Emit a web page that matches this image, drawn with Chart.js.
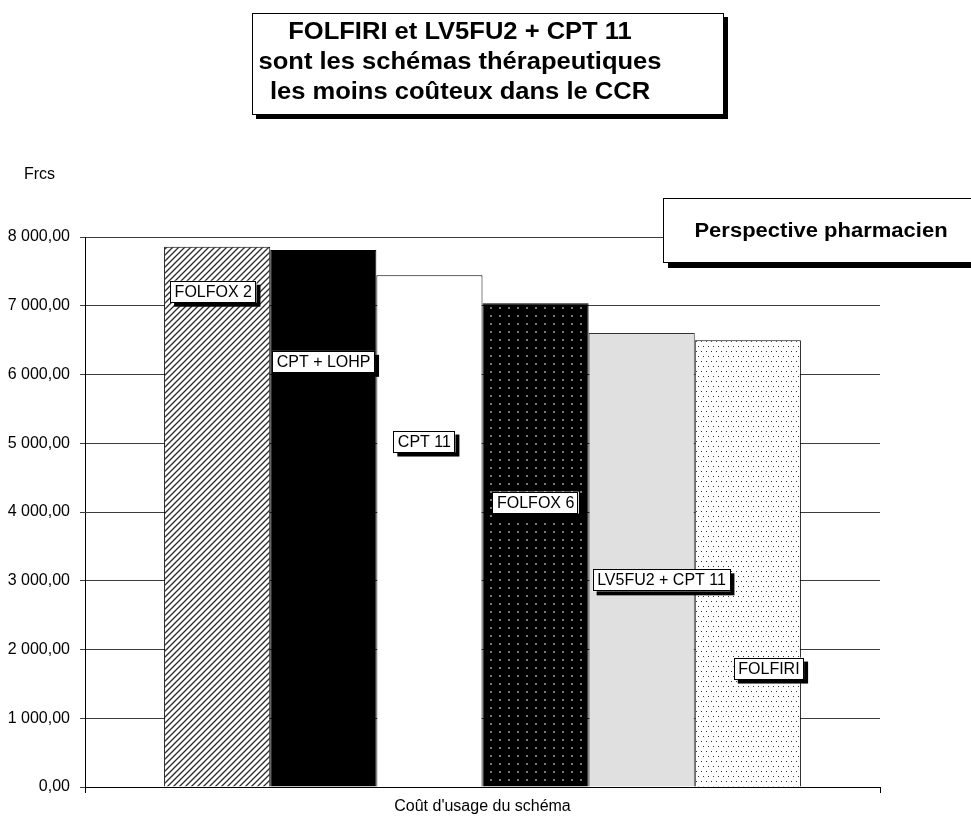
<!DOCTYPE html>
<html>
<head>
<meta charset="utf-8">
<script src="https://cdn.jsdelivr.net/npm/chart.js@4.4.1/dist/chart.umd.min.js"></script>
<style>
  html, body { margin: 0; padding: 0; background: #fff; }
  #c { display: block; }
</style>
</head>
<body>
<canvas id="c" width="971" height="818"></canvas>
<script>
// Cost of each chemotherapy regimen (French francs)
const categories = ["Coût d'usage du schéma"];
const schemes = ['FOLFOX 2', 'CPT + LOHP', 'CPT 11', 'FOLFOX 6', 'LV5FU2 + CPT 11', 'FOLFIRI'];
const costs = [7860, 7810, 7445, 7035, 6605, 6500];
const yMin = 0, yMax = 8000, yStep = 1000;

const FONT = '"Liberation Sans", Arial, Helvetica, sans-serif';
const canvas = document.getElementById('c');
const ctx = canvas.getContext('2d');

// ---- fill patterns ----
function tile(w, h, draw) {
  const c = document.createElement('canvas');
  c.width = w; c.height = h;
  draw(c.getContext('2d'));
  return ctx.createPattern(c, 'repeat');
}
const hatchFill = tile(6, 6, g => {
  g.fillStyle = '#fff'; g.fillRect(0, 0, 6, 6);
  g.strokeStyle = '#2a2a2a'; g.lineWidth = 1.3;
  g.beginPath();
  g.moveTo(-1, 7); g.lineTo(7, -1);
  g.moveTo(-1, 1); g.lineTo(1, -1);
  g.moveTo(5, 7); g.lineTo(7, 5);
  g.stroke();
});
const darkDots = tile(9, 8, g => {
  g.fillStyle = '#000'; g.fillRect(0, 0, 9, 8);
  g.fillStyle = '#7a7a7a'; g.fillRect(4, 3, 2, 2);
});
const lightDots = tile(10, 10, g => {
  g.fillStyle = '#fff'; g.fillRect(0, 0, 10, 10);
  g.fillStyle = '#333';
  g.fillRect(1, 1, 1, 1); g.fillRect(6, 1, 1, 1);
  g.fillRect(3, 6, 1, 1); g.fillRect(8, 6, 1, 1);
});

const fills = [hatchFill, '#000000', '#ffffff', darkDots, '#e0e0e0', lightDots];
const edges = ['#000', '#000', '#000', '#000', '#333', '#000'];

function frNumber(v) {
  const [i, d] = Math.abs(v).toFixed(2).split('.');
  return i.replace(/\B(?=(\d{3})+(?!\d))/g, ' ') + ',' + d;
}

function boxWithShadow(g, x, y, w, h, off) {
  g.fillStyle = '#000';
  g.fillRect(x + off, y + off, w, h);
  g.fillStyle = '#fff';
  g.fillRect(x, y, w, h);
  g.strokeStyle = '#000';
  g.lineWidth = 1;
  g.strokeRect(Math.round(x) + 0.5, Math.round(y) + 0.5, Math.round(w) - 1, Math.round(h) - 1);
}

// Name tags drawn on each bar, stepping down from left to right
const nameTags = {
  id: 'nameTags',
  afterDatasetsDraw(chart, args, opts) {
    const g = chart.ctx;
    const ys = chart.scales.y;
    g.save();
    g.font = '16px ' + FONT;
    chart.data.datasets.forEach((ds, i) => {
      const bar = chart.getDatasetMeta(i).data[0];
      const spot = opts.spots[i];
      const left = bar.x - bar.width / 2 + spot.dx;
      const tw = g.measureText(ds.label).width;
      const w = tw + 9, h = 22;
      const top = ys.getPixelForValue(spot.at) - h / 2;
      boxWithShadow(g, left, top, w, h, 4);
      g.fillStyle = '#000';
      g.textAlign = 'left';
      g.textBaseline = 'alphabetic';
      g.fillText(ds.label, left + 4.5, top + 16);
    });
    g.restore();
  }
};

// Heading box, perspective box and unit caption
const frame = {
  id: 'frame',
  afterDraw(chart) {
    const g = chart.ctx;
    g.save();
    // heading
    boxWithShadow(g, 252, 13, 472, 102, 4);
    g.fillStyle = '#000';
    g.font = 'bold 23px ' + FONT;
    g.textAlign = 'center';
    g.textBaseline = 'alphabetic';
    const lines = ['FOLFIRI et LV5FU2 + CPT 11', 'sont les schémas thérapeutiques', 'les moins coûteux dans le CCR'];
    lines.forEach((t, k) => {
      g.save();
      g.translate(460, 39 + k * 30);
      g.scale(1.11, 1);
      g.fillText(t, 0, 0);
      g.restore();
    });
    // perspective box
    boxWithShadow(g, 663, 198, 330, 65, 5);
    g.fillStyle = '#000';
    g.font = 'bold 20px ' + FONT;
    g.save();
    g.translate(821, 237);
    g.scale(1.1, 1);
    g.fillText('Perspective pharmacien', 0, 0);
    g.restore();
    // unit caption
    g.font = '16px ' + FONT;
    g.textAlign = 'left';
    g.fillText('Frcs', 24, 179);
    g.restore();
  }
};

new Chart(ctx, {
  type: 'bar',
  data: {
    labels: categories,
    datasets: schemes.map((name, i) => ({
      label: name,
      data: [costs[i]],
      backgroundColor: fills[i],
      borderColor: edges[i],
      borderWidth: 1,
      borderSkipped: 'start',
      categoryPercentage: 0.801,
      barPercentage: 1
    }))
  },
  options: {
    responsive: false,
    animation: false,
    devicePixelRatio: 1,
    layout: { padding: { top: 237, right: 91, left: 0, bottom: 0 } },
    plugins: {
      legend: { display: false },
      tooltip: { enabled: false },
      title: { display: false },
      nameTags: {
        spots: [
          { dx: 6, at: 7204 },
          { dx: 2, at: 6184 },
          { dx: 17, at: 5025 },
          { dx: 10, at: 4136 },
          { dx: 4, at: 3006 },
          { dx: 39, at: 1723 }
        ]
      }
    },
    scales: {
      x: {
        offset: true,
        grid: { display: true, drawOnChartArea: false, tickLength: 6, color: '#000' },
        border: { display: true, color: '#000', width: 1 },
        ticks: { color: '#000', font: { family: FONT, size: 16 }, padding: 4, maxRotation: 0 },
        afterFit(s) { s.height = 31; }
      },
      y: {
        min: yMin, max: yMax,
        ticks: {
          stepSize: yStep,
          color: '#000',
          padding: 10,
          font: { family: FONT, size: 16 },
          callback: v => frNumber(v)
        },
        grid: { color: '#3c3c3c', lineWidth: 1, tickLength: 5 },
        border: { display: true, color: '#000', width: 1 },
        afterFit(s) { s.width = 85; }
      }
    }
  },
  plugins: [nameTags, frame]
});
</script>
</body>
</html>
